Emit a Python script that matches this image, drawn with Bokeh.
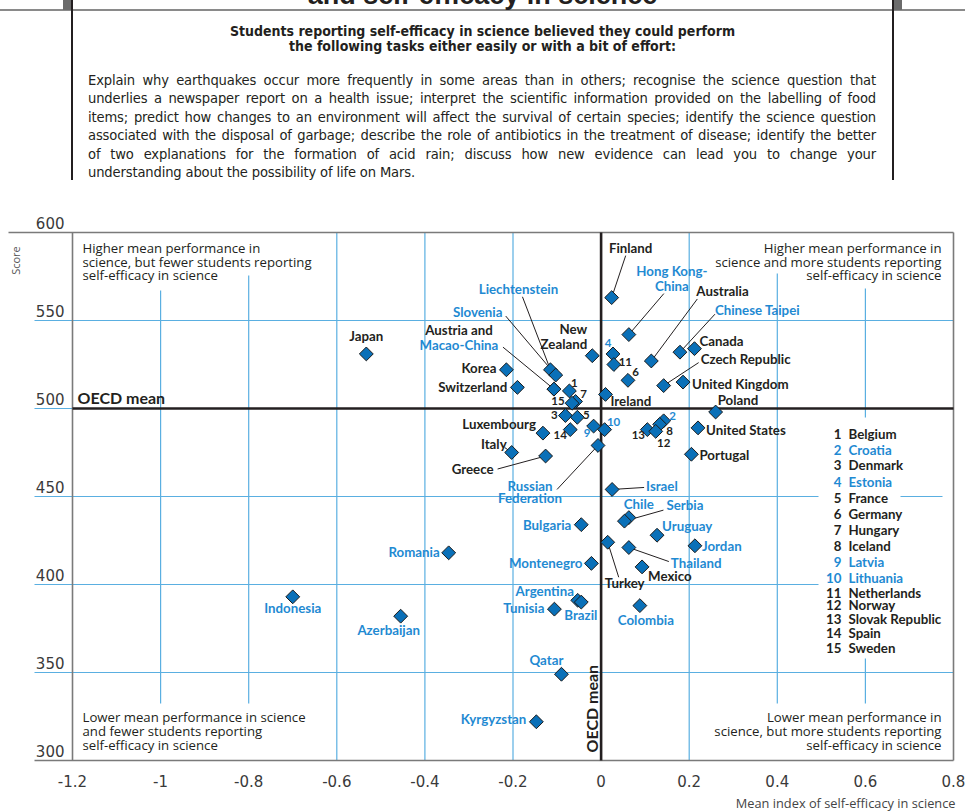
import numpy as np
from bokeh.plotting import figure
from bokeh.models import ColumnDataSource, Range1d, LabelSet, Label, Div
from bokeh.layouts import column
from bokeh.core.properties import value
from bokeh.embed import file_html
from bokeh.resources import INLINE

# ---------------------------------------------------------------- data
countries = ["Finland", "Hong Kong-China", "Canada", "Chinese Taipei", "Estonia", "Japan",
             "New Zealand", "Australia", "Netherlands", "Liechtenstein", "Korea", "Slovenia",
             "Germany", "United Kingdom", "Czech Republic", "Switzerland", "Macao-China", "Austria",
             "Belgium", "Ireland", "Hungary", "Sweden", "Poland", "Denmark", "France",
             "Croatia", "Iceland", "Latvia", "United States", "Slovak Republic", "Spain",
             "Lithuania", "Norway", "Luxembourg", "Russian Federation", "Italy", "Portugal",
             "Greece", "Israel", "Chile", "Serbia", "Bulgaria", "Uruguay", "Turkey", "Jordan",
             "Thailand", "Romania", "Montenegro", "Mexico", "Indonesia", "Argentina", "Brazil",
             "Colombia", "Tunisia", "Azerbaijan", "Qatar", "Kyrgyzstan"]
self_efficacy = [0.024, 0.063, 0.212, 0.179, 0.027, -0.533,
                 -0.020, 0.114, 0.029, -0.115, -0.215, -0.103,
                 0.061, 0.186, 0.142, -0.190, -0.107, -0.107,
                 -0.072, 0.010, -0.058, -0.066, 0.260, -0.081, -0.054,
                 0.142, 0.133, -0.017, 0.220, 0.105, -0.070,
                 0.008, 0.124, -0.132, -0.007, -0.203, 0.205,
                 -0.126, 0.025, 0.063, 0.053, -0.045, 0.127, 0.015, 0.213,
                 0.063, -0.346, -0.022, 0.093, -0.700, -0.053, -0.045,
                 0.088, -0.106, -0.455, -0.090, -0.147]
science_score = [563, 542, 534, 532, 531, 531,
                 530, 527, 525, 522, 522, 519,
                 516, 515, 513, 512, 511, 511,
                 510, 508, 504, 503, 498, 496, 495,
                 493, 491, 490, 489, 488, 488,
                 488, 487, 486, 479, 475, 474,
                 473, 454, 438, 436, 434, 428, 424, 422,
                 421, 418, 412, 410, 393, 391, 390,
                 388, 386, 382, 349, 322]
oecd_member = [True, False, True, False, False, True,
               True, True, True, False, True, False,
               True, True, True, True, False, True,
               True, True, True, True, True, True, True,
               False, True, False, True, True, True,
               False, True, True, False, True, True,
               True, False, False, False, False, False, True, False,
               False, False, False, True, False, False, False,
               False, False, False, False, False]
numbered_countries = ["Belgium", "Croatia", "Denmark", "Estonia", "France", "Germany",
                      "Hungary", "Iceland", "Latvia", "Lithuania", "Netherlands", "Norway",
                      "Slovak Republic", "Spain", "Sweden"]
x_ticks = [-1.2, -1.0, -0.8, -0.6, -0.4, -0.2, 0.0, 0.2, 0.4, 0.6, 0.8]
x_tick_labels = ["-1.2", "-1", "-0.8", "-0.6", "-0.4", "-0.2", "0", "0.2", "0.4", "0.6", "0.8"]
y_ticks = [300, 350, 400, 450, 500, 550, 600]
y_tick_labels = ["300", "350", "400", "450", "500", "550", "600"]
oecd_mean_index = 0.0
oecd_mean_score = 500
assert len(countries) == len(self_efficacy) == len(science_score) == len(oecd_member)

# ---------------------------------------------------------------- layout / style
W = 965
H_DIV = 200
H_FIG = 611
PLOT_LEFT, PLOT_RIGHT = 72, 953          # page x of first / last x tick
PLOT_TOP, PLOT_BOTTOM = 232, 760         # page y of top / bottom y tick
PX_X = (PLOT_RIGHT - PLOT_LEFT) / (x_ticks[-1] - x_ticks[0])
PX_Y = (PLOT_BOTTOM - PLOT_TOP) / (y_ticks[-1] - y_ticks[0])
X_START = x_ticks[0] - PLOT_LEFT / PX_X
X_END = x_ticks[-1] + (W - PLOT_RIGHT) / PX_X
Y_END = y_ticks[-1] + (PLOT_TOP - H_DIV) / PX_Y
Y_START = y_ticks[0] - (H_DIV + H_FIG - PLOT_BOTTOM) / PX_Y

def rx(page_x):          # page x of a layout element -> data x
    return X_START + page_x / PX_X

def ry(page_y):          # page y of a layout element -> data y
    return Y_END - (page_y - H_DIV) / PX_Y

BLACK = "#231f20"
BLUE_TXT = "#1f8ad2"
DIAMOND = "#0a70b8"
GRID = "#5aafe1"
FRAME = "#7a7a7a"
LABEL_FONT = "Lato"
NOTE_FONT = "Open Sans"
TICK_FONT = "DejaVu Sans"

# label placement: text, dx, dy (pixels, screen-down positive), alignment
LABELS = {
    "Finland": [("Finland", 19, -50, "center")],
    "Hong Kong-China": [("Hong Kong-", 43, -64, "center"), ("China", 43, -49, "center")],
    "Australia": [("Australia", 45, -70, "left")],
    "Chinese Taipei": [("Chinese Taipei", 35, -42, "left")],
    "Canada": [("Canada", 5, -8, "left")],
    "Czech Republic": [("Czech Republic", 37, -27, "left")],
    "United Kingdom": [("United Kingdom", 9, 2, "left")],
    "Poland": [("Poland", 2, -12, "left")],
    "United States": [("United States", 8, 2, "left")],
    "Portugal": [("Portugal", 8, 1, "left")],
    "Ireland": [("Ireland", 5, 7, "left")],
    "New Zealand": [("New", -5, -27, "right"), ("Zealand", -5, -12, "right")],
    "Japan": [("Japan", 0, -18, "center")],
    "Liechtenstein": [("Liechtenstein", -32, -81, "center")],
    "Slovenia": [("Slovenia", -78, -63, "center")],
    "Austria": [("Austria and", -95, -59, "center")],
    "Macao-China": [("Macao-China", -95, -44, "center")],
    "Korea": [("Korea", -10, -2, "right")],
    "Switzerland": [("Switzerland", -10, 0, "right")],
    "Luxembourg": [("Luxembourg", -7, -9, "right")],
    "Italy": [("Italy", -5, -9, "right")],
    "Greece": [("Greece", -52, 13, "right")],
    "Russian Federation": [("Russian", -68, 41, "center"), ("Federation", -68, 53, "center")],
    "Israel": [("Israel", 34, -3, "left")],
    "Chile": [("Chile", 10, -14, "center")],
    "Serbia": [("Serbia", 42, -16, "left")],
    "Bulgaria": [("Bulgaria", -10, 0, "right")],
    "Uruguay": [("Uruguay", 5, -9, "left")],
    "Jordan": [("Jordan", 7, 0, "left")],
    "Romania": [("Romania", -9, -1, "right")],
    "Turkey": [("Turkey", 17, 41, "center")],
    "Thailand": [("Thailand", 42, 15, "left")],
    "Mexico": [("Mexico", 6, 9, "left")],
    "Montenegro": [("Montenegro", -9, 0, "right")],
    "Argentina": [("Argentina", -33, -9, "center")],
    "Brazil": [("Brazil", -17, 13, "left")],
    "Tunisia": [("Tunisia", -10, -1, "right")],
    "Colombia": [("Colombia", 6, 14, "center")],
    "Azerbaijan": [("Azerbaijan", -12, 14, "center")],
    "Indonesia": [("Indonesia", 0, 11, "center")],
    "Qatar": [("Qatar", -15, -14, "center")],
    "Kyrgyzstan": [("Kyrgyzstan", -10, -3, "right")],
}
LEADERS = {
    "Finland": (14, -42), "Hong Kong-China": (35, -41), "Australia": (46, -62),
    "Chinese Taipei": (35, -38), "Czech Republic": (35, -23), "Liechtenstein": (-28, -73),
    "Slovenia": (-50, -59), "Macao-China": (-51, -42), "Italy": (-7, -5),
    "Greece": (-48, 13), "Russian Federation": (-41, 44), "Israel": (32, -2),
    "Serbia": (39, -11), "Turkey": (11, 35), "Thailand": (40, 14),
}
NUMBER_OFFSETS = {
    "Belgium": (5, -8), "Croatia": (9, -5), "Denmark": (-11, -1), "Estonia": (-5, -11),
    "France": (9, -2), "Germany": (7.5, -8), "Hungary": (8, -7), "Iceland": (10, 7),
    "Latvia": (-6.5, 7), "Lithuania": (9, -8), "Netherlands": (11.5, -3), "Norway": (8, 12),
    "Slovak Republic": (-9, 5), "Spain": (-10, 5), "Sweden": (-14, -2),
}
LEGEND_ROWS_Y = [433, 449, 464, 481, 497, 513, 529, 545, 561, 577, 592, 604, 618, 632, 647]

# ---------------------------------------------------------------- figure
p = figure(width=W, height=H_FIG, output_backend="svg", toolbar_location=None,
           x_range=Range1d(X_START, X_END), y_range=Range1d(Y_START, Y_END),
           x_axis_location=None, y_axis_location=None,
           min_border_left=0, min_border_right=0, min_border_top=0, min_border_bottom=0)
p.outline_line_color = None
p.grid.visible = False
p.background_fill_color = "white"
p.border_fill_color = "white"

# gridlines with gaps around the notes
GRID_LEFT = rx(34)
v_grid = [(-1.0, ry(290), ry(703)), (-0.8, ry(275), ry(703)),
          (-0.6, y_ticks[-1], y_ticks[0]), (-0.4, y_ticks[-1], y_ticks[0]),
          (-0.2, y_ticks[-1], y_ticks[0]), (0.2, y_ticks[-1], y_ticks[0]),
          (0.4, ry(273), ry(703)), (0.6, ry(288), ry(417)), (0.6, ry(658), ry(703))]
p.segment(x0=[g[0] for g in v_grid], y0=[g[1] for g in v_grid],
          x1=[g[0] for g in v_grid], y1=[g[2] for g in v_grid],
          line_color=GRID, line_width=1.2)
h_grid = [(550, GRID_LEFT, x_ticks[-1]), (500, GRID_LEFT, x_ticks[0]),
          (450, GRID_LEFT, rx(818)), (450, rx(900), rx(942)),
          (400, GRID_LEFT, rx(818)), (350, GRID_LEFT, x_ticks[-1])]
p.segment(x0=[g[1] for g in h_grid], y0=[g[0] for g in h_grid],
          x1=[g[2] for g in h_grid], y1=[g[0] for g in h_grid],
          line_color=GRID, line_width=1.2)

# frame
p.segment(x0=[x_ticks[0], x_ticks[-1], rx(8), GRID_LEFT],
          y0=[y_ticks[0], y_ticks[0], y_ticks[-1], y_ticks[0]],
          x1=[x_ticks[0], x_ticks[-1], x_ticks[-1], x_ticks[-1]],
          y1=[y_ticks[-1], y_ticks[-1], y_ticks[-1], y_ticks[0]],
          line_color=FRAME, line_width=1.6)
# OECD mean lines
p.segment(x0=[x_ticks[0], oecd_mean_index], y0=[oecd_mean_score, y_ticks[0]],
          x1=[x_ticks[-1], oecd_mean_index], y1=[oecd_mean_score, y_ticks[-1]],
          line_color=BLACK, line_width=2.6)

# leader lines
lx0, ly0, lx1, ly1 = [], [], [], []
for name, (dx, dy) in LEADERS.items():
    i = countries.index(name)
    lx0.append(self_efficacy[i]); ly0.append(science_score[i])
    lx1.append(self_efficacy[i] + dx / PX_X); ly1.append(science_score[i] - dy / PX_Y)
p.segment(x0=lx0, y0=ly0, x1=lx1, y1=ly1, line_color=BLACK, line_width=1)

# diamonds
src = ColumnDataSource(dict(x=self_efficacy, y=science_score, name=countries))
p.scatter("x", "y", source=src, marker="square", angle=np.pi / 4, size=9.8,
          fill_color=DIAMOND, line_color="#1b1b1b", line_width=1)

# country labels
rows = dict(x=[], y=[], text=[], dx=[], dy=[], align=[], color=[])
for name, entries in LABELS.items():
    i = countries.index(name)
    for (t, dx, dy, al) in entries:
        rows["x"].append(self_efficacy[i]); rows["y"].append(science_score[i])
        rows["text"].append(t); rows["dx"].append(dx); rows["dy"].append(-dy)
        rows["align"].append(al); rows["color"].append(BLACK if oecd_member[i] else BLUE_TXT)
p.add_layout(LabelSet(x="x", y="y", text="text", x_offset="dx", y_offset="dy",
                      text_align="align", text_color="color", text_baseline="middle",
                      text_font=value(LABEL_FONT), text_font_style="bold",
                      text_font_size="13.3px", source=ColumnDataSource(rows)))

# numbered small countries
nrows = dict(x=[], y=[], text=[], dx=[], dy=[], color=[])
for k, name in enumerate(numbered_countries):
    i = countries.index(name)
    dx, dy = NUMBER_OFFSETS[name]
    nrows["x"].append(self_efficacy[i]); nrows["y"].append(science_score[i])
    nrows["text"].append(str(k + 1)); nrows["dx"].append(dx); nrows["dy"].append(-dy)
    nrows["color"].append(BLACK if oecd_member[i] else BLUE_TXT)
p.add_layout(LabelSet(x="x", y="y", text="text", x_offset="dx", y_offset="dy",
                      text_align="center", text_color="color", text_baseline="middle",
                      text_font=value(LABEL_FONT), text_font_style="bold",
                      text_font_size="11.5px", source=ColumnDataSource(nrows)))

# key of numbers
krows = dict(xn=[], xt=[], y=[], num=[], name=[], color=[])
for k, name in enumerate(numbered_countries):
    i = countries.index(name)
    krows["xn"].append(rx(841)); krows["xt"].append(rx(848))
    krows["y"].append(ry(LEGEND_ROWS_Y[k]))
    krows["num"].append(str(k + 1)); krows["name"].append(name)
    krows["color"].append(BLACK if oecd_member[i] else BLUE_TXT)
ksrc = ColumnDataSource(krows)
p.add_layout(LabelSet(x="xn", y="y", text="num", text_align="right", text_baseline="middle",
                      text_color="color", text_font=value(LABEL_FONT), text_font_style="bold",
                      text_font_size="13.3px", source=ksrc))
p.add_layout(LabelSet(x="xt", y="y", text="name", text_align="left", text_baseline="middle",
                      text_color="color", text_font=value(LABEL_FONT), text_font_style="bold",
                      text_font_size="13.3px", source=ksrc))

# y tick labels (above their lines, left of the frame)
p.add_layout(LabelSet(x="x", y="y", text="t", x_offset=-8, y_offset=4,
                      text_align="right", text_baseline="alphabetic",
                      text_font=value(TICK_FONT), text_font_size="15px", text_color="#3a3a3a",
                      source=ColumnDataSource(dict(x=[x_ticks[0]] * len(y_ticks), y=y_ticks,
                                                   t=y_tick_labels))))
# x tick labels (below the frame)
p.add_layout(LabelSet(x="x", y="y", text="t", y_offset=-20,
                      text_align="center", text_baseline="middle",
                      text_font=value(TICK_FONT), text_font_size="15px", text_color="#3a3a3a",
                      source=ColumnDataSource(dict(x=x_ticks, y=[y_ticks[0]] * len(x_ticks),
                                                   t=x_tick_labels))))

# quadrant notes
notes = [
    (["Higher mean performance in", "science, but fewer students reporting",
      "self-efficacy in science"], rx(82), [247, 261, 274], "left"),
    (["Higher mean performance in", "science and more students reporting",
      "self-efficacy in science"], rx(941), [247, 261, 274], "right"),
    (["Lower mean performance in science", "and fewer students reporting",
      "self-efficacy in science"], rx(82), [716, 730, 744], "left"),
    (["Lower mean performance in", "science, but more students reporting",
      "self-efficacy in science"], rx(941), [716, 730, 744], "right"),
]
nr = dict(x=[], y=[], text=[], align=[])
for lines, xx, ys, al in notes:
    for t, yy in zip(lines, ys):
        nr["x"].append(xx); nr["y"].append(ry(yy)); nr["text"].append(t); nr["align"].append(al)
p.add_layout(LabelSet(x="x", y="y", text="text", text_align="align", text_baseline="middle",
                      text_font=value(NOTE_FONT), text_font_size="13.2px", text_color=BLACK,
                      source=ColumnDataSource(nr)))

# OECD mean labels
p.add_layout(Label(x=x_ticks[0], y=oecd_mean_score, x_offset=5, y_offset=11, text="OECD mean",
                   text_align="left", text_baseline="middle", text_font=LABEL_FONT,
                   text_font_style="bold", text_font_size="16px", text_color=BLACK))
p.add_layout(Label(x=oecd_mean_index, y=y_ticks[0], x_offset=-10, y_offset=8, text="OECD mean",
                   angle=np.pi / 2, text_align="left", text_baseline="middle",
                   text_font=LABEL_FONT, text_font_style="bold", text_font_size="16px",
                   text_color=BLACK))

# axis titles
p.add_layout(Label(x=rx(15), y=ry(260), text="Score", angle=np.pi / 2, text_align="center",
                   text_baseline="middle", text_font=NOTE_FONT, text_font_size="11px",
                   text_color="#555555"))
p.add_layout(Label(x=x_ticks[-1], y=y_ticks[0], x_offset=2, y_offset=-42,
                   text="Mean index of self-efficacy in science", text_align="right",
                   text_baseline="middle", text_font=NOTE_FONT, text_font_size="12.8px",
                   text_color="#444444"))

# ---------------------------------------------------------------- header box
para_lines = [
    "Explain why earthquakes occur more frequently in some areas than in others; recognise the science question that",
    "underlies a newspaper report on a health issue; interpret the scientific information provided on the labelling of food",
    "items; predict how changes to an environment will affect the survival of certain species; identify the science question",
    "associated with the disposal of garbage; describe the role of antibiotics in the treatment of disease; identify the better",
    "of two explanations for the formation of acid rain; discuss how new evidence can lead you to change your",
    "understanding about the possibility of life on Mars.",
]
heading = ["Students reporting self-efficacy in science believed they could perform",
           "the following tasks either easily or with a bit of effort:"]
COND = "'Liberation Sans Narrow','Arial Narrow','DejaVu Sans Condensed',sans-serif"
para_html = "".join(
    f'<div style="white-space:nowrap;text-align:justify;text-align-last:{"justify" if k < len(para_lines) - 1 else "left"};">{t}</div>'
    for k, t in enumerate(para_lines))
html = f"""
<div style="position:relative;width:{W}px;height:{H_DIV}px;color:{BLACK};font-family:{COND};">
 <div style="position:absolute;left:0;top:9px;width:{W}px;height:2px;background:#8a8a8a;"></div>
 <div style="position:absolute;left:63px;top:0;width:9px;height:10px;background:#6b6b6b;"></div>
 <div style="position:absolute;left:893px;top:0;width:9px;height:10px;background:#6b6b6b;"></div>
 <div style="position:absolute;left:71px;top:0;width:2px;height:180px;background:{BLACK};"></div>
 <div style="position:absolute;left:892px;top:0;width:2px;height:180px;background:{BLACK};"></div>
 <div style="position:absolute;left:0;top:-19px;width:{W}px;text-align:center;font-family:'Liberation Sans',sans-serif;font-weight:bold;font-size:27px;line-height:28px;white-space:nowrap;">and self-efficacy in science</div>
 <div style="position:absolute;left:72px;top:24px;width:821px;text-align:center;font-weight:bold;font-size:14px;line-height:15px;">{heading[0]}<br>{heading[1]}</div>
 <div style="position:absolute;left:88px;top:71px;width:788px;font-size:14.6px;letter-spacing:-0.15px;line-height:18.4px;">{para_html}</div>
</div>
"""
header = Div(text=html, width=W, height=H_DIV, margin=0)

layout = column(header, p, spacing=0)
open("out.html", "w").write(file_html(layout, INLINE))
